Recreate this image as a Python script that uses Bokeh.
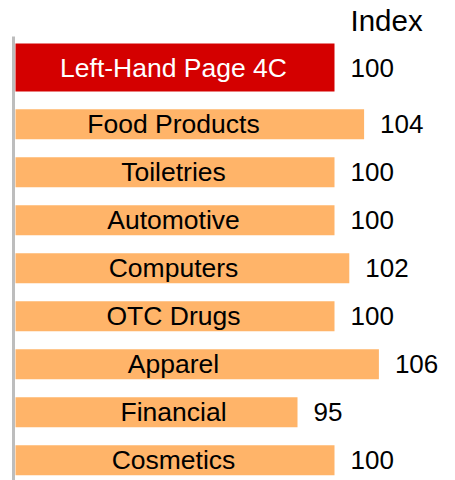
from bokeh.plotting import figure
from bokeh.models import Range1d, ColumnDataSource
from bokeh.embed import file_html
from bokeh.resources import INLINE
from bokeh.core.properties import value

categories = ["Left-Hand Page 4C", "Food Products", "Toiletries", "Automotive",
              "Computers", "OTC Drugs", "Apparel", "Financial", "Cosmetics"]
index_values = [100, 104, 100, 100, 102, 100, 106, 95, 100]
header = "Index"

W, H = 455, 480
PX = 7.4                      # pixels per index unit
base = 100 - (334 - 15) / PX  # value at bar baseline
x_start = base - 15 / PX
x_end = x_start + W / PX
STEP = 48.0                   # pixels per row
y_top = 1 - 123.7 / STEP
y_bottom = y_top + H / STEP

n = len(categories)
ys = [-0.18] + list(range(1, n))
heights = [1.0] + [0.625] * (n - 1)
colors = ["#d40000"] + ["#ffb469"] * (n - 1)
tcolors = ["white"] + ["black"] * (n - 1)

src = ColumnDataSource(dict(
    y=ys, h=heights, v=index_values, cat=categories,
    color=colors, tcolor=tcolors,
    vx=[v + 16 / PX for v in index_values],
    lbl=[str(v) for v in index_values],
))

p = figure(width=W, height=H, x_range=Range1d(x_start, x_end),
           y_range=Range1d(y_bottom, y_top), output_backend="svg",
           toolbar_location=None, x_axis_location=None, y_axis_location=None,
           min_border=0)
p.outline_line_color = None
p.xgrid.grid_line_color = None
p.ygrid.grid_line_color = None
p.background_fill_color = "white"

p.hbar(y="y", height="h", left=base, right="v", fill_color="color",
       line_color=None, source=src)

p.segment(x0=[base - 2 / PX], x1=[base - 2 / PX], y0=[y_top + 36 / STEP],
          y1=[y_bottom], line_color="#bdbdbd", line_width=3)

font = value("Liberation Sans")
p.text(x=base + 158 / PX, y="y", text="cat", text_align="center",
       text_baseline="middle", text_font=font, text_font_size="26.5px",
       text_color="tcolor", source=src)
p.text(x="vx", y="y", text="lbl", text_align="left", text_baseline="middle",
       text_font=font, text_font_size="26px", text_color="black", source=src)
p.text(x=[100 + 16 / PX], y=[y_top + 19.5 / STEP], text=[header],
       text_align="left", text_baseline="middle", text_font=font,
       text_font_size="29.5px", text_color="black")

open("out.html", "w").write(file_html(p, INLINE))
